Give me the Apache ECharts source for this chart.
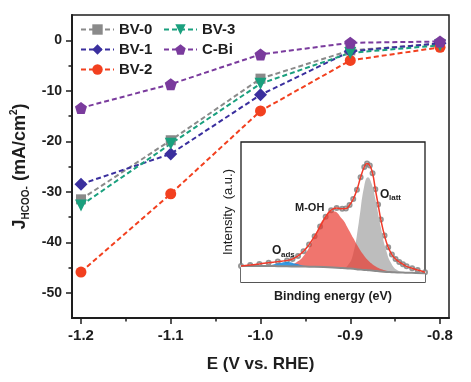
<!DOCTYPE html>
<html><head><meta charset="utf-8">
<script src="https://cdn.jsdelivr.net/npm/echarts@6/dist/echarts.min.js"></script>
<style>html,body{margin:0;padding:0;background:#fff}#c{width:471px;height:382px}</style>
</head><body><div id="c"></div>
<script>
// ---- main chart data ----
const potentials = [-1.2, -1.1, -1.0, -0.9, -0.8];
const bv0 = [-31.5, -19.8, -7.6, -2.0, -0.7];
const bv1 = [-28.5, -22.5, -10.8, -2.2, -0.6];
const bv2 = [-45.9, -30.4, -14.0, -4.0, -1.4];
const bv3 = [-32.7, -20.5, -8.6, -2.5, -1.0];
const cbi = [-13.4, -8.7, -2.8, -0.5, -0.25];
const xTickValues = [-1.2, -1.1, -1.0, -0.9, -0.8];
const xTickLabels = ['-1.2', '-1.1', '-1.0', '-0.9', '-0.8'];
const xMinorTicks = [-1.15, -1.05, -0.95, -0.85];
const yTickValues = [-50, -40, -30, -20, -10, 0];
const yTickLabels = ['-50', '-40', '-30', '-20', '-10', '0'];
const yMinorTicks = [-45, -35, -25, -15, -5];

// ---- inset (XPS O1s) data, arbitrary units ----
const insetX    = [0, 5, 10, 15, 20, 25, 30, 35, 40, 45, 50, 55, 58, 61, 64, 67, 69, 71, 73, 76, 79, 82, 85, 88, 91, 95, 100];
const baseline  = [10.6,10.6,10.5,10.5,10.4,10.3,10.2,10.1,10.0,9.8,9.5,9.1,8.8,8.5,8.1,7.7,7.5,7.3,7.0,6.6,6.3,6.1,5.9,5.8,5.7,5.5,5.4];
const peakMOH   = [0,0,0,0,0.1,0.6,2.9,9.5,21.7,35.2,40.5,35.3,29.2,22.2,15.6,10.1,7.2,5.0,3.3,1.7,0.8,0.3,0.1,0,0,0,0];
const peakOlatt = [0,0,0,0,0,0,0,0,0,0,0,0.2,2.1,11.0,33.7,60.8,67.0,62.5,52.0,31.8,15.0,5.5,1.5,0.3,0,0,0];
const peakOads  = [0,0,0,0.4,1.9,3.2,1.9,0.4,0,0,0,0,0,0,0,0,0,0,0,0,0,0,0,0,0,0,0];
const expX = [0,5,10,15,20,25,28,31,34,37,40,43,46,49,52,55,57,59,61,63,65,67,68.5,70,71.5,73,74.5,76,78,80,82,84,86,88,90,93,96,100];
const expY = [10.6,11.2,12.0,12.9,13.7,14.6,15.6,17.8,21.2,26.0,32.0,39.0,46.0,50.8,52.3,51.9,52.0,54.5,58.8,65.5,74.5,82.0,84.4,83.0,77.5,66.0,55.0,44.0,32.5,24.0,18.8,15.6,13.5,11.8,10.3,8.9,7.6,6.1];

const FONT = 'Liberation Sans, Arial, Helvetica, sans-serif';
const INK = '#1e1e1e';
const pair = (xs, ys) => xs.map((x, i) => [x, ys[i]]);
const onBase = peak => pair(insetX, peak.map((v, i) => v + baseline[i]));
const pentagon = 'path://M0,-10L9.51,-3.09L5.88,8.09L-5.88,8.09L-9.51,-3.09Z';
const downTri = 'path://M-10,-8L10,-8L0,9Z';

function mainSeries(name, ys, color, symbol, size) {
  return {
    name, type: 'line', xAxisIndex: 0, yAxisIndex: 0,
    data: pair(potentials, ys),
    symbol, symbolSize: size,
    itemStyle: { color },
    lineStyle: { color, width: 2, type: [5, 3] },
    z: 3
  };
}
function insetArea(data, color, opacity) {
  return { type: 'line', xAxisIndex: 2, yAxisIndex: 2, data, symbol: 'none', smooth: true,
    lineStyle: { width: 0, opacity: 0 }, areaStyle: { color, opacity, origin: 'start' }, silent: true };
}

const chart = echarts.init(document.getElementById('c'), null, { renderer: 'canvas' });
const labelStyle = { fontFamily: FONT, fontWeight: 'bold', color: INK };
const legendText = { fontFamily: FONT, fontWeight: 'bold', fontSize: 15, color: INK };

chart.setOption({
  animation: false,
  textStyle: { fontFamily: FONT },
  grid: [
    { left: 72, right: 22, top: 15, bottom: 64, show: true, borderColor: INK, borderWidth: 1.5, backgroundColor: 'transparent' },
    { left: 241, top: 142, width: 184, height: 140, show: true, borderColor: INK, borderWidth: 1.3, backgroundColor: '#fff' }
  ],
  legend: [
    { data: ['BV-0', 'BV-1', 'BV-2'], orient: 'vertical', left: 75, top: 17, itemGap: 5, itemWidth: 33, itemHeight: 13, textStyle: legendText },
    { data: ['BV-3', 'C-Bi'], orient: 'vertical', left: 158, top: 17, itemGap: 5, itemWidth: 33, itemHeight: 13, textStyle: legendText }
  ],
  xAxis: [
    { type: 'value', gridIndex: 0, min: -1.21, max: -0.79, position: 'bottom',
      axisLine: { show: true, onZero: false, lineStyle: { color: INK, width: 2 } },
      axisTick: { show: true, length: 6, customValues: xTickValues, lineStyle: { color: INK, width: 1.5 } },
      axisLabel: { customValues: xTickValues, margin: 10, fontSize: 15, ...labelStyle,
        formatter: v => xTickLabels[xTickValues.findIndex(t => Math.abs(t - v) < 1e-6)] },
      splitLine: { show: false },
      name: 'E (V vs. RHE)', nameLocation: 'middle', nameGap: 38,
      nameTextStyle: { fontFamily: FONT, fontWeight: 'bold', fontSize: 17, color: INK } },
    { type: 'value', gridIndex: 0, min: -1.21, max: -0.79, position: 'bottom',
      axisLine: { show: false, onZero: false },
      axisTick: { show: true, length: 3.5, customValues: xMinorTicks, lineStyle: { color: INK, width: 1.5 } },
      axisLabel: { show: false }, splitLine: { show: false } },
    { type: 'value', gridIndex: 1, min: 0, max: 100,
      axisLine: { show: false, onZero: false }, axisTick: { show: false }, axisLabel: { show: false }, splitLine: { show: false },
      name: 'Binding energy (eV)', nameLocation: 'middle', nameGap: 8,
      nameTextStyle: { fontFamily: FONT, fontWeight: 'bold', fontSize: 12.5, color: INK } }
  ],
  yAxis: [
    { type: 'value', gridIndex: 0, min: -55, max: 5, position: 'left',
      axisLine: { show: true, onZero: false, lineStyle: { color: INK, width: 2 } },
      axisTick: { show: true, length: 6, customValues: yTickValues, lineStyle: { color: INK, width: 1.5 } },
      axisLabel: { customValues: yTickValues, margin: 10, fontSize: 14, ...labelStyle,
        formatter: v => yTickLabels[yTickValues.indexOf(Math.round(v))] },
      splitLine: { show: false },
      name: '{j|J}{sub|HCOO-}{t| (mA/cm}{sup|2}{t|)}', nameLocation: 'middle', nameRotate: 90, nameGap: 29,
      nameTextStyle: {
        color: INK,
        rich: {
          j: { fontFamily: FONT, fontWeight: 'bold', fontSize: 18, lineHeight: 22, color: INK },
          t: { fontFamily: FONT, fontWeight: 'bold', fontSize: 18, lineHeight: 22, color: INK },
          sub: { fontFamily: FONT, fontWeight: 'bold', fontSize: 10, lineHeight: 22, verticalAlign: 'bottom', color: INK },
          sup: { fontFamily: FONT, fontWeight: 'bold', fontSize: 10, lineHeight: 22, verticalAlign: 'top', color: INK }
        }
      } },
    { type: 'value', gridIndex: 0, min: -55, max: 5, position: 'left',
      axisLine: { show: false, onZero: false },
      axisTick: { show: true, length: 3.5, customValues: yMinorTicks, lineStyle: { color: INK, width: 1.5 } },
      axisLabel: { show: false }, splitLine: { show: false } },
    { type: 'value', gridIndex: 1, min: -1, max: 100,
      axisLine: { show: false, onZero: false }, axisTick: { show: false }, axisLabel: { show: false }, splitLine: { show: false },
      name: 'Intensity  (a.u.)', nameLocation: 'middle', nameRotate: 90, nameGap: 6,
      nameTextStyle: { fontFamily: FONT, fontSize: 13, color: INK } }
  ],
  series: [
    mainSeries('BV-0', bv0, '#8a8a8a', 'rect', 10),
    mainSeries('BV-1', bv1, '#3a2f9e', 'diamond', 13),
    mainSeries('BV-2', bv2, '#f2401f', 'circle', 11),
    mainSeries('BV-3', bv3, '#1aa07e', downTri, 12),
    mainSeries('C-Bi', cbi, '#7a3b9d', pentagon, 12),
    // inset: component peaks (on background), then white cover below background
    insetArea(onBase(peakOlatt), '#bdbdbd', 1),
    insetArea(onBase(peakMOH), '#ea3b30', 0.7),
    insetArea(onBase(peakOads), '#1f8fe0', 0.9),
    insetArea(pair(insetX, baseline), '#ffffff', 1),
    { type: 'line', xAxisIndex: 2, yAxisIndex: 2, data: pair(insetX, baseline), symbol: 'none', smooth: true, lineStyle: { color: '#8a8a8a', width: 2 } },
    { type: 'scatter', xAxisIndex: 2, yAxisIndex: 2, data: pair(expX, expY), symbol: 'emptyCircle', symbolSize: 4, itemStyle: { color: '#7a7a7a', borderWidth: 1 } },
    { type: 'line', xAxisIndex: 2, yAxisIndex: 2, data: pair(expX, expY), symbol: 'none', smooth: true, lineStyle: { color: '#f03a2a', width: 1.5 } }
  ],
  graphic: [
    { type: 'text', z: 100, left: 295, top: 202, style: { text: 'M-OH', font: 'bold 11px ' + FONT, fill: INK } },
    { type: 'text', z: 100, left: 380, top: 189, style: { text: 'O', font: 'bold 12px ' + FONT, fill: INK } },
    { type: 'text', z: 100, left: 389, top: 194, style: { text: 'latt', font: 'bold 8px ' + FONT, fill: INK } },
    { type: 'text', z: 100, left: 272, top: 245, style: { text: 'O', font: 'bold 12px ' + FONT, fill: INK } },
    { type: 'text', z: 100, left: 281, top: 251, style: { text: 'ads', font: 'bold 8px ' + FONT, fill: INK } }
  ]
});
</script></body></html>
